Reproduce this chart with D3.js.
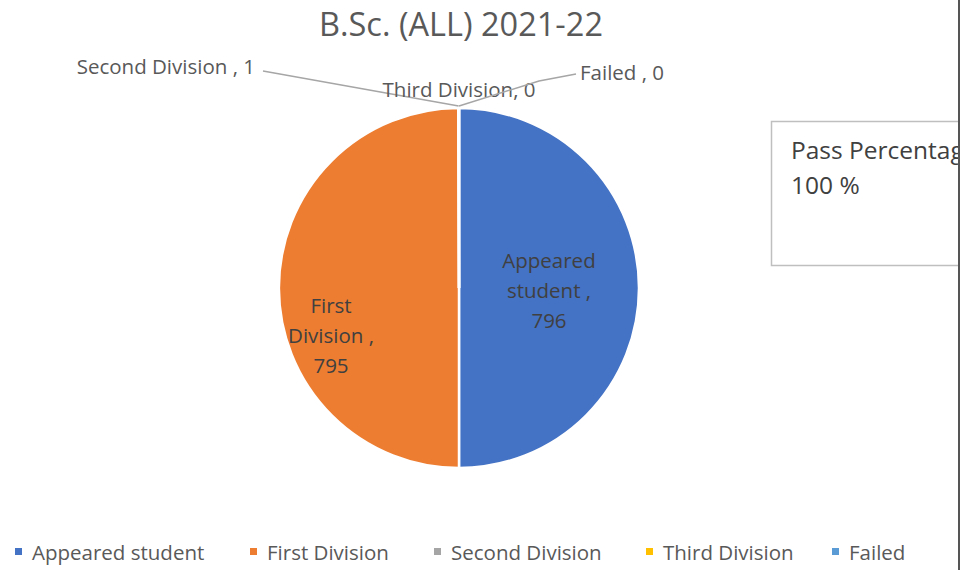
<!DOCTYPE html>
<html><head><meta charset="utf-8">
<script src="https://cdn.jsdelivr.net/npm/d3@7"></script>
<style>body{margin:0;background:#fff}svg{display:block}text{font-family:"Open Sans",sans-serif}</style>
</head><body><svg id="c" width="961" height="570"></svg>
<script>
const title = "B.Sc. (ALL) 2021-22";
const categories = ["Appeared student","First Division","Second Division","Third Division","Failed"];
const values = [796, 795, 1, 0, 0];
const colors = ["#4472C4","#ED7D31","#A5A5A5","#FFC000","#5B9BD5"];
const noteLines = ["Pass Percentage","100 %"];

const svg = d3.select("#c");
const W = 961, H = 570;
const cx = 459, cy = 288, R = 180;
const txt = "#595959";

svg.append("text").attr("x", 461).attr("y", 36).attr("text-anchor","middle")
  .attr("font-size", 32.5).attr("fill", txt).text(title);

const data = categories.map((c,i)=>({cat:c, value:values[i], color:colors[i]}));
const pie = d3.pie().value(d=>d.value).sort(null);
const arcs = pie(data);
const arc = d3.arc().innerRadius(0).outerRadius(R);
const g = svg.append("g").attr("transform", `translate(${cx},${cy})`);
g.selectAll("path").data(arcs).join("path")
  .attr("d", arc).attr("fill", d=>d.data.color)
  .attr("stroke", "#fff").attr("stroke-width", 2.5);

// inside labels for the two big slices
const inside = {
  "Appeared student": {lines:["Appeared","student ,"], dx:0, dy:0},
  "First Division": {lines:["First","Division ,"], dx:-38, dy:45}
};
const labelArc = d3.arc().innerRadius(R*0.5).outerRadius(R*0.5);
arcs.forEach(a=>{
  const cfg = inside[a.data.cat];
  if(!cfg) return;
  const [x,y] = labelArc.centroid(a);
  const lines = cfg.lines.concat([String(a.data.value)]);
  const t = g.append("text").attr("text-anchor","middle").attr("font-size",20.5).attr("fill","#404040");
  const lh = 30;
  lines.forEach((l,i)=>{
    t.append("tspan").attr("x", x+cfg.dx).attr("y", y+cfg.dy + (i-1)*lh + 10).text(l);
  });
});

// outside labels for tiny slices with leader lines
const outside = {
  "Second Division": {x:-204, y:-214, anchor:"end", sep:" , ", line:[[-196,-217],[0,-182]]},
  "Third Division": {x:0, y:-191, anchor:"middle", sep:", ", line:null},
  "Failed": {x:121, y:-208, anchor:"start", sep:"  , ", line:[[117,-214],[80,-207],[0,-182]]}
};
arcs.forEach(a=>{
  const cfg = outside[a.data.cat];
  if(!cfg) return;
  const p = d3.arc().innerRadius(R).outerRadius(R).centroid(a);
  if(cfg.line){
    const pts = cfg.line.slice(0,-1).concat([[p[0], p[1]-2]]);
    g.append("path").attr("d", d3.line()(pts)).attr("fill","none")
      .attr("stroke","#A6A6A6").attr("stroke-width",1.5);
  }
  g.append("text").attr("x", cfg.x).attr("y", cfg.y).attr("text-anchor", cfg.anchor)
    .attr("font-size",20.5).attr("fill",txt).text(a.data.cat + cfg.sep + a.data.value);
});

// note box
svg.append("rect").attr("x",771.5).attr("y",121.5).attr("width",220).attr("height",144)
  .attr("fill","#fff").attr("stroke","#BFBFBF").attr("stroke-width",1.5);
noteLines.forEach((l,i)=>{
  svg.append("text").attr("x",791).attr("y",159+i*35).attr("font-size",24.5).attr("fill","#404040").text(l);
});

// legend
const legX = [15, 250, 434, 646, 832];
const leg = svg.append("g");
data.forEach((d,i)=>{
  leg.append("rect").attr("x",legX[i]).attr("y",548).attr("width",7).attr("height",7).attr("fill",d.color);
  leg.append("text").attr("x",legX[i]+17).attr("y",560).attr("font-size",20.5).attr("fill",txt).text(d.cat);
});

// right edge crop + border
svg.append("rect").attr("x",958).attr("y",0).attr("width",3).attr("height",H).attr("fill","#fff");
svg.append("line").attr("x1",959).attr("x2",959).attr("y1",0).attr("y2",H).attr("stroke","#555").attr("stroke-width",2);
</script></body></html>
